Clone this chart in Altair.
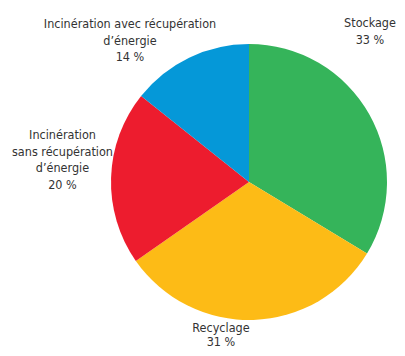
import altair as alt
import pandas as pd

categories = ["Stockage", "Recyclage", "Incinération sans récupération d'énergie", "Incinération avec récupération d'énergie"]
values = [33, 31, 20, 14]
labels = ["Stockage\n33 %", "Recyclage\n31 %", "Incinération\nsans récupération\nd’énergie\n20 %", "Incinération avec récupération\nd’énergie\n14 %"]
colors = ["#35b45a", "#fdbb16", "#ed1c2e", "#0598d8"]

# label layout (pixel positions of first baseline within the chart)
label_x = [362, 213, 54.5, 122]
label_y = [19, 324, 131, 20]

df = pd.DataFrame({"cat": categories, "val": values, "ord": list(range(len(values)))})
lab = pd.DataFrame({"cat": categories, "txt": labels, "lx": label_x, "ly": label_y})

pie = alt.Chart(df).mark_arc(outerRadius=138, stroke=None).encode(
    theta=alt.Theta("val:Q", stack=True),
    order=alt.Order("ord:Q"),
    color=alt.Color("cat:N", scale=alt.Scale(domain=categories, range=colors), legend=None),
    x=alt.value(241),
    y=alt.value(174),
)

def text_layer(filter_expr, line_height):
    return alt.Chart(lab).transform_filter(filter_expr).transform_calculate(
        t="split(datum.txt, '\\n')"
    ).mark_text(
        align="center", baseline="alphabetic", fontSize=12.5, lineHeight=line_height,
        font="DejaVu Sans Condensed, sans-serif", color="#333333"
    ).encode(
        x=alt.X("lx:Q", scale=None),
        y=alt.Y("ly:Q", scale=None),
        text="t:N",
    )

text_main = text_layer("datum.cat != 'Recyclage'", 16.5)
text_bottom = text_layer("datum.cat == 'Recyclage'", 14)

chart = alt.layer(pie, text_main, text_bottom).properties(
    width=389, height=340, autosize=alt.AutoSizeParams(type="none"), padding=0
).configure_view(stroke=None)

chart.save("out.html", embed_options={"renderer": "svg", "actions": False})
